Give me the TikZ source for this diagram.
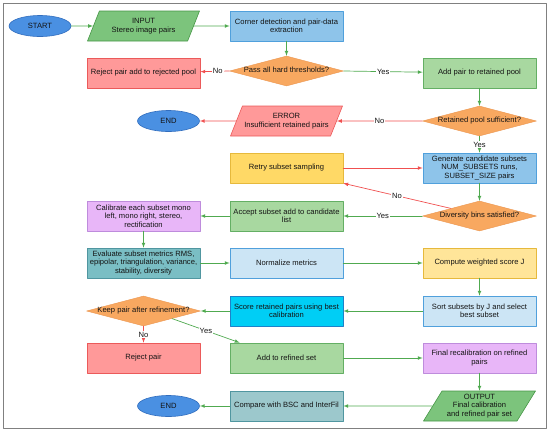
\documentclass[tikz,border=0pt]{standalone}
\usepackage{fontspec}
\setmainfont{Liberation Sans}
\usetikzlibrary{shapes.geometric}
\definecolor{ovalfill}{RGB}{74,144,226}
\definecolor{ovaldraw}{RGB}{50,110,190}
\definecolor{iofill}{RGB}{124,196,124}
\definecolor{iodraw}{RGB}{70,150,70}
\definecolor{bluefill}{RGB}{142,196,234}
\definecolor{bluedraw}{RGB}{80,160,220}
\definecolor{greenfill}{RGB}{168,216,160}
\definecolor{greendraw}{RGB}{100,175,100}
\definecolor{redfill}{RGB}{255,153,153}
\definecolor{reddraw}{RGB}{235,90,90}
\definecolor{yellowfill}{RGB}{255,217,102}
\definecolor{yellowdraw}{RGB}{230,185,60}
\definecolor{lilacfill}{RGB}{232,182,248}
\definecolor{lilacdraw}{RGB}{190,140,220}
\definecolor{tealfill}{RGB}{122,190,196}
\definecolor{tealdraw}{RGB}{80,150,160}
\definecolor{paleblue}{RGB}{204,229,245}
\definecolor{paleyellow}{RGB}{255,229,153}
\definecolor{cyanfill}{RGB}{0,206,245}
\definecolor{cyandraw}{RGB}{30,130,200}
\definecolor{greyteal}{RGB}{156,200,204}
\definecolor{orangefill}{RGB}{248,168,96}
\definecolor{orangedraw}{RGB}{235,150,80}
\definecolor{yesline}{RGB}{80,170,80}
\definecolor{noline}{RGB}{240,80,80}
\definecolor{inktext}{RGB}{20,20,20}
\begin{document}
\begin{tikzpicture}[x=1pt,y=-1pt,line cap=round,line join=round,>=latex,
  every node/.style={font=\fontsize{7.6}{8.4}\selectfont,text=inktext,align=center},
  oval/.style={ellipse,draw=ovaldraw,fill=ovalfill,line width=0.6pt,minimum width=62pt,minimum height=21pt,inner sep=0pt},
  box/.style={rectangle,draw=#1draw,fill=#1fill,line width=0.6pt,minimum width=113pt,minimum height=30pt,inner sep=1pt},
  pbox/.style={rectangle,draw=#1,fill=#1,line width=0.6pt,minimum width=113pt,minimum height=30pt,inner sep=1pt},
  iobox/.style={trapezium,trapezium left angle=52,trapezium right angle=128,trapezium stretches body,
    draw=#1draw,fill=#1fill,line width=0.6pt,minimum width=112pt,minimum height=30pt,inner sep=0pt},
  test/.style={diamond,aspect=3.7,draw=orangedraw,fill=orangefill,line width=0.4pt,minimum width=114pt,minimum height=30pt,
    inner sep=0pt,text height=3pt,text depth=0pt},
  go/.style={->,draw=yesline,line width=0.7pt},
  nogo/.style={->,draw=noline,line width=0.7pt},
  tag/.style={fill=white,inner sep=1pt}]
  \useasboundingbox (0,0) rectangle (550,432);
  \draw[line width=1pt,draw=gray] (3.5,3.5) rectangle (546,428);

  \node[oval] (start) at (40,26) {START};
  \node[iobox=io] (input) at (143.5,26) {INPUT\\Stereo image pairs};
  \node[box=blue] (corner) at (286.5,26) {Corner detection and pair-data\\extraction};

  \node[box=red] (reject) at (143.5,73) {Reject pair add to rejected pool};
  \node[test] (hard) at (286.5,71) {Pass all hard thresholds?};
  \node[box=green] (retain) at (479.5,73) {Add pair to retained pool};

  \node[oval] (endA) at (168.5,121) {END};
  \node[iobox=red] (error) at (286.5,121) {ERROR\\Insufficient retained pairs};
  \node[test] (enough) at (479.5,121) {Retained pool sufficient?};

  \node[box=yellow] (retry) at (286.5,168) {Retry subset sampling};
  \node[box=blue] (generate) at (479.5,168) {Generate candidate subsets\\NUM\_SUBSETS runs,\\SUBSET\_SIZE pairs};

  \node[box=lilac] (calib) at (143.5,216) {Calibrate each subset mono\\left, mono right, stereo,\\rectification};
  \node[box=green] (accept) at (286.5,216) {Accept subset add to candidate\\list};
  \node[test] (bins) at (479.5,216) {Diversity bins satisfied?};

  \node[box=teal] (evaluate) at (143.5,263) {Evaluate subset metrics RMS,\\epipolar, triangulation, variance,\\stability, diversity};
  \node[pbox=paleblue,draw=bluedraw] (normal) at (286.5,263) {Normalize metrics};
  \node[pbox=paleyellow,draw=yellowdraw] (score) at (479.5,263) {Compute weighted score J};

  \node[test] (keep) at (143.5,311) {Keep pair after refinement?};
  \node[box=cyan] (rescore) at (286.5,311) {Score retained pairs using best\\calibration};
  \node[pbox=paleblue,draw=bluedraw] (sort) at (479.5,311) {Sort subsets by J and select\\best subset};

  \node[box=red] (drop) at (143.5,358) {Reject pair};
  \node[box=green] (refined) at (286.5,358) {Add to refined set};
  \node[box=lilac] (recal) at (479.5,358) {Final recalibration on refined\\pairs};

  \node[oval] (endB) at (168.5,406) {END};
  \node[pbox=greyteal,draw=tealdraw] (compare) at (286.5,406) {Compare with BSC and InterFil};
  \node[iobox=io] (output) at (479.5,406) {OUTPUT\\Final calibration\\and refined pair set};

  \draw[go] (start) -- (input.west);
  \draw[go] (input.east) -- (corner);
  \draw[go] (corner) -- (hard);
  \draw[nogo] (hard.west) -- node[tag,pos=0.4] {No} (reject);
  \draw[go] (hard.east) -- node[tag] {Yes} (retain);
  \draw[go] (retain) -- (enough);
  \draw[nogo] (enough.west) -- node[tag] {No} (error.east);
  \draw[nogo] (error.west) -- (endA);
  \draw[go] (enough.south) -- node[tag] {Yes} (generate);
  \draw[go] (generate) -- (bins);
  \draw[go] (bins.west) -- node[tag] {Yes} (accept);
  \draw[nogo] (bins.north west) -- node[tag] {No} (retry.south east);
  \draw[nogo] (retry) -- (generate);
  \draw[go] (accept) -- (calib);
  \draw[go] (calib) -- (evaluate);
  \draw[go] (evaluate) -- (normal);
  \draw[go] (normal) -- (score);
  \draw[go] (score) -- (sort);
  \draw[go] (sort) -- (rescore);
  \draw[go] (rescore) -- (keep.east);
  \draw[nogo] (keep.south) -- node[tag] {No} (drop);
  \draw[go] (keep.south east) -- node[tag] {Yes} ([xshift=10pt]refined.north west);
  \draw[go] (refined) -- (recal);
  \draw[go] (recal) -- (output.north);
  \draw[go] (output.west) -- (compare);
  \draw[go] (compare) -- (endB);
\end{tikzpicture}
\end{document}
